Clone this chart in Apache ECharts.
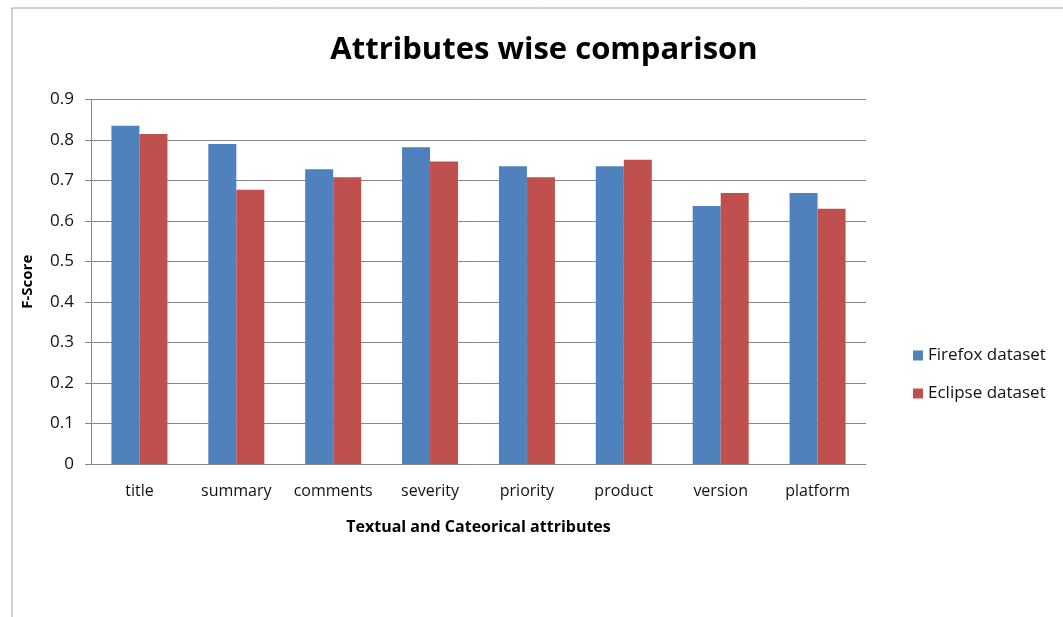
<!DOCTYPE html>
<html>
<head>
<meta charset="utf-8">
<script src="https://cdn.jsdelivr.net/npm/echarts@6/dist/echarts.min.js"></script>
<style>
  html, body { margin: 0; padding: 0; background: #fff; }
  #chart { width: 1063px; height: 617px; }
</style>
</head>
<body>
<div id="chart"></div>
<script>
var categories = ['title', 'summary', 'comments', 'severity', 'priority', 'product', 'version', 'platform'];
var firefox = [0.835, 0.790, 0.728, 0.782, 0.735, 0.735, 0.637, 0.669];
var eclipse = [0.815, 0.677, 0.708, 0.747, 0.708, 0.751, 0.669, 0.630];
var yTicks = [0, 0.1, 0.2, 0.3, 0.4, 0.5, 0.6, 0.7, 0.8, 0.9];

var chart = echarts.init(document.getElementById('chart'), null, {renderer: 'canvas'});

var font = '"Open Sans", sans-serif';

chart.setOption({
    backgroundColor: '#fff',
    animation: false,
    title: {
        text: 'Attributes wise comparison',
        left: 539, top: 30, textAlign: 'center',
        textStyle: {fontFamily: font, fontSize: 31, fontWeight: 'bold', color: '#000'}
    },
    graphic: [{
        type: 'polyline',
        shape: {points: [[12, 617], [12, 8], [1063, 8]]},
        style: {stroke: '#a0a0a0', lineWidth: 1, fill: null}
    }],
    legend: {
        orient: 'vertical',
        left: 908, top: 342,
        itemWidth: 10, itemHeight: 10, itemGap: 21,
        icon: 'rect',
        textStyle: {fontFamily: font, fontSize: 17, color: '#111'},
        data: ['Firefox dataset', 'Eclipse dataset']
    },
    grid: {left: 91, right: 197, top: 99.5, bottom: 153},
    xAxis: {
        type: 'category',
        data: categories,
        name: 'Textual and Cateorical attributes',
        nameLocation: 'middle',
        nameGap: 55,
        nameTextStyle: {fontFamily: font, fontSize: 16, fontWeight: 'bold', color: '#000'},
        axisLine: {lineStyle: {color: '#888'}},
        axisTick: {show: false},
        axisLabel: {interval: 0, fontFamily: font, fontSize: 16, color: '#111', margin: 19}
    },
    yAxis: {
        type: 'value',
        min: 0, max: 0.9, interval: 0.1,
        name: 'F-Score',
        nameLocation: 'middle',
        nameGap: 56,
        nameTextStyle: {fontFamily: font, fontSize: 15, fontWeight: 'bold', color: '#000'},
        axisLine: {show: true, lineStyle: {color: '#888'}},
        axisTick: {show: true, length: 6, lineStyle: {color: '#888'}},
        axisLabel: {
            fontFamily: font, fontSize: 17, color: '#111', margin: 17,
            formatter: function (v) {
                var t = yTicks.find(function (x) { return Math.abs(x - v) < 1e-9; });
                return t === undefined ? '' : String(t);
            }
        },
        splitLine: {lineStyle: {color: '#888', width: 1}}
    },
    series: [{
        name: 'Firefox dataset',
        type: 'bar',
        data: firefox,
        barWidth: 28,
        barGap: '0%',
        itemStyle: {color: '#4f81bd'}
    }, {
        name: 'Eclipse dataset',
        type: 'bar',
        data: eclipse,
        barWidth: 28,
        barGap: '0%',
        itemStyle: {color: '#c0504d'}
    }]
});
</script>
</body>
</html>
